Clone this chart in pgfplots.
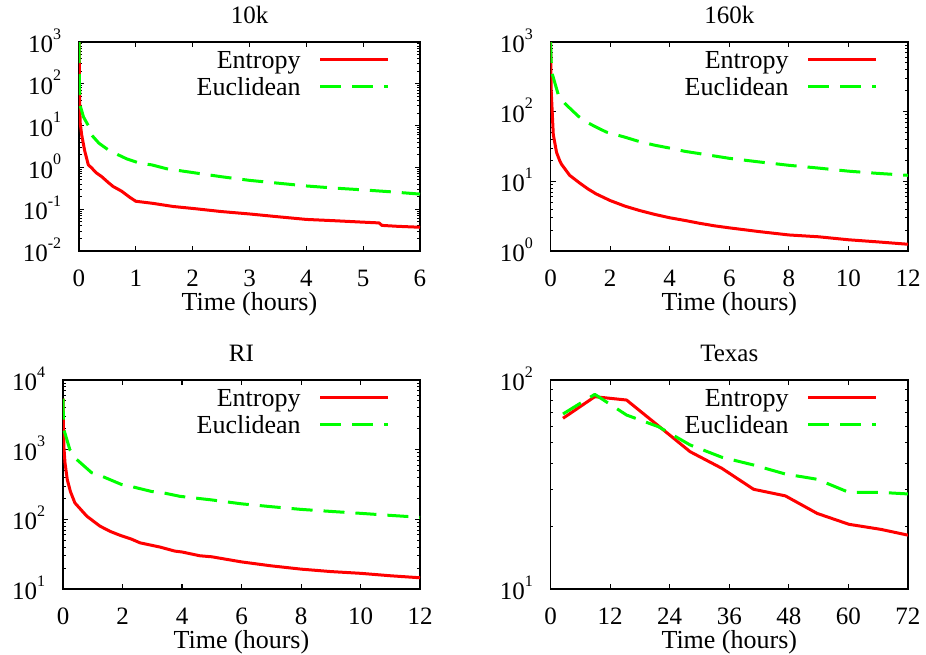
\documentclass[border=0pt]{standalone}
\usepackage{fontspec}
\setmainfont{Liberation Serif}
\usepackage{pgfplots}
\pgfplotsset{compat=1.18}
\definecolor{gpred}{RGB}{255,0,0}
\definecolor{gpgreen}{RGB}{0,255,0}
\newcommand{\ex}[1]{10\raisebox{6.8pt}{\fontsize{8}{8}\selectfont #1}}
\pgfkeys{/pgf/number format/assume math mode=true}
\pgfplotsset{
  legend image code/.code={\draw[#1] (0pt,0pt) -- (34pt,0pt);},
  every axis/.append style={
    scale only axis, height=104.5pt,
    axis line style={line width=0.8pt},
    every tick/.style={line width=0.5pt, black},
    major tick length=2.5pt, minor tick length=1.3pt,
    xtick pos=both, ytick pos=both,
    xticklabel pos=lower, yticklabel pos=left,
    tick label style={font=\fontsize{12.5}{15}\selectfont},
    xticklabel style={anchor=base, yshift=-17.8pt},
    yticklabel style={anchor=base east, inner sep=0pt, xshift=-8.7pt, yshift=-5.3pt},
    title style={at={(axis description cs:0.5,1)}, anchor=base, yshift=3.4pt, font=\fontsize{12.5}{15}\selectfont},
    xlabel style={at={(axis description cs:0.5,0)}, anchor=base, yshift=-29.8pt, font=\fontsize{13}{15}\selectfont},
    xlabel={Time (hours)},
    legend plot pos=right,
    legend cell align=right,
    legend style={draw=none, fill=none, at={(1,1)}, anchor=north east,
      xshift=-15pt, yshift=-4.2pt, inner sep=0pt, row sep=4.9pt, column sep=9pt,
      font=\fontsize{13}{15}\selectfont,
      nodes={text height=8.6pt, text depth=0pt, inner sep=0pt}},
  },
  ent/.style={gpred, solid, line width=1.5pt, line join=round},
  euc/.style={gpgreen, line width=1.5pt, dash pattern=on 10.5pt off 5.5pt, line join=round},
}
\begin{document}
\begin{tikzpicture}
\useasboundingbox (0,0) rectangle (463pt,-327pt);

% ---------- 10k ----------
\begin{axis}[ymode=log, at={(39.5pt,-125.5pt)}, anchor=south west, width=170.5pt,
  title={10k}, xmin=0, xmax=6, ymin=0.01, ymax=1000,
  xtick={0,1,2,3,4,5,6},
  ytick={0.01,0.1,1,10,100,1000},
  yticklabels={\ex{-2},\ex{-1},\ex{0},\ex{1},\ex{2},\ex{3}},
  minor ytick={0.02,0.03,0.04,0.05,0.06,0.07,0.08,0.09,0.2,0.3,0.4,0.5,0.6,0.7,0.8,0.9,2,3,4,5,6,7,8,9,20,30,40,50,60,70,80,90,200,300,400,500,600,700,800,900}]
\addplot[ent] coordinates {(0,1000) (0.005,300) (0.01,50) (0.02,12) (0.047,6) (0.1,2.5) (0.164,1.15) (0.22,0.98) (0.3,0.75) (0.4,0.6) (0.52,0.43) (0.6,0.35) (0.75,0.27) (0.9,0.19) (1.0,0.155) (1.3,0.138) (1.66,0.116) (2.04,0.103) (2.5,0.088) (3.0,0.077) (3.5,0.066) (4.0,0.057) (4.5,0.053) (5.0,0.049) (5.28,0.047) (5.33,0.041) (5.6,0.039) (6,0.037)};
\addplot[euc] coordinates {(0,1000) (0.005,200) (0.01,50) (0.018,31) (0.08,16) (0.164,10) (0.22,6) (0.35,3.8) (0.52,2.6) (0.69,2.0) (0.84,1.6) (1.07,1.26) (1.28,1.15) (1.54,0.93) (1.87,0.8) (2.5,0.6) (3,0.49) (3.5,0.42) (4,0.36) (4.5,0.32) (5,0.29) (5.5,0.26) (6,0.23)};
\legend{Entropy, Euclidean}
\end{axis}

% ---------- 160k ----------
\begin{axis}[ymode=log, at={(275.3pt,-125.5pt)}, anchor=south west, width=178.7pt,
  title={160k}, xmin=0, xmax=12, ymin=1, ymax=1000,
  xtick={0,2,4,6,8,10,12},
  ytick={1,10,100,1000},
  yticklabels={\ex{0},\ex{1},\ex{2},\ex{3}},
  minor ytick={2,3,4,5,6,7,8,9,20,30,40,50,60,70,80,90,200,300,400,500,600,700,800,900}]
\addplot[ent] coordinates {(0,1000) (0.02,200) (0.09,47) (0.2,26) (0.31,19.6) (0.37,17.5) (0.64,12.2) (0.97,9.5) (1.25,7.8) (1.53,6.6) (2,5.3) (2.5,4.4) (3,3.8) (3.5,3.35) (4,3.0) (4.5,2.75) (5,2.5) (5.5,2.3) (6,2.15) (7,1.9) (8,1.7) (9,1.6) (10,1.45) (11,1.35) (12,1.25)};
\addplot[euc] coordinates {(0,1000) (0.01,600) (0.05,355) (0.26,174) (0.48,131) (0.93,86) (1.26,69) (1.53,60) (1.87,51) (2.5,43) (3,37) (3.5,33) (4,30) (4.5,27) (5,25) (6,21.4) (7,19) (8,17) (9,15.5) (10,14) (11,13) (12,12.2)};
\legend{Entropy, Euclidean}
\end{axis}

% ---------- RI ----------
\begin{axis}[ymode=log, at={(31.5pt,-294.5pt)}, anchor=south west, width=178.5pt,
  title={RI}, xmin=0, xmax=12, ymin=10, ymax=10000,
  xtick={0,2,4,6,8,10,12},
  ytick={10,100,1000,10000},
  yticklabels={\ex{1},\ex{2},\ex{3},\ex{4}},
  minor ytick={20,30,40,50,60,70,80,90,200,300,400,500,600,700,800,900,2000,3000,4000,5000,6000,7000,8000,9000}]
\addplot[ent] coordinates {(0,5400) (0.01,2700) (0.03,1100) (0.067,650) (0.145,370) (0.25,250) (0.4,172) (0.8,111) (1.24,80) (1.59,67) (1.92,59) (2.3,52) (2.59,46) (3.26,40) (3.76,35) (4,34) (4.6,30) (5,29) (6,24.5) (7,21.5) (8,19.3) (9,17.8) (10,16.8) (11,15.5) (12,14.5)};
\addplot[euc] coordinates {(0,5400) (0.02,2000) (0.07,1700) (0.23,1000) (0.46,724) (0.96,468) (1.3,417) (1.97,316) (2.31,295) (2.98,251) (3.37,240) (3.93,214) (5,190) (6,167) (7,152) (8,139) (9,130) (10,122) (11,114) (12,107)};
\legend{Entropy, Euclidean}
\end{axis}

% ---------- Texas ----------
\begin{axis}[ymode=log, at={(275.3pt,-294.5pt)}, anchor=south west, width=178.7pt,
  title={Texas}, xmin=0, xmax=72, ymin=10, ymax=100,
  xtick={0,12,24,36,48,60,72},
  ytick={10,100},
  yticklabels={\ex{1},\ex{2}},
  minor ytick={20,30,40,50,60,70,80,90}]
\addplot[ent] coordinates {(2.5,65.6) (8.9,83.2) (15.3,80.2) (21.7,60.4) (28.1,45.4) (34.5,37.8) (40.9,30.0) (47.3,27.9) (53.7,23.0) (60.1,20.4) (66.5,19.3) (72,18.1)};
\addplot[euc] coordinates {(2.5,68.8) (8.9,85.4) (15.3,68) (21.7,59.8) (28.1,48.9) (34.5,42.7) (40.9,39.2) (47.3,35.5) (53.7,33.5) (60.1,29.0) (66.5,29.0) (72,28.5)};
\legend{Entropy, Euclidean}
\end{axis}
\end{tikzpicture}
\end{document}
